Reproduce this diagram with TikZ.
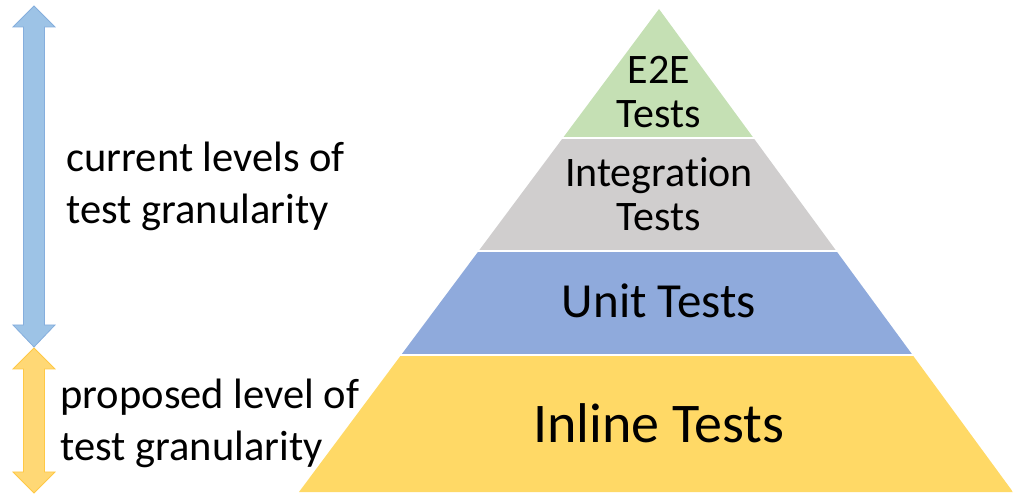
\documentclass[tikz,border=0pt]{standalone}
\usepackage{fontspec}
\setmainfont{Carlito}[Ligatures=NoCommon]
\definecolor{etoe}{HTML}{C5E0B4}
\definecolor{integ}{HTML}{D0CECE}
\definecolor{unit}{HTML}{8FAADC}
\definecolor{inline}{HTML}{FFD966}
\definecolor{curfill}{HTML}{9DC3E6}
\definecolor{curline}{HTML}{85AEDD}
\definecolor{propfill}{HTML}{FFD875}
\definecolor{propline}{HTML}{FFC845}
\tikzset{
  side/.style={anchor=west, align=left, font=\fontsize{42.5}{52}\selectfont},
  layer/.style={align=center, font=\fontsize{42}{44}\selectfont},
}
% double arrow: \dblarrow[style](x)(top)(top head)(bottom head)(bottom)
\def\dblarrow[#1](#2)(#3)(#4)(#5)(#6){\draw[#1] (#2,#3) -- (#2+21,#4) -- (#2+10.5,#4) -- (#2+10.5,#5) -- (#2+21,#5) -- (#2,#6) -- (#2-21,#5) -- (#2-10.5,#5) -- (#2-10.5,#4) -- (#2-21,#4) -- cycle;}

\begin{document}
\begin{tikzpicture}[x=1pt,y=-1pt]
		%%%%% START %%%%%
		\useasboundingbox (0,0) rectangle (1013,494);
		
		% pyramid
		\coordinate (apex) at (659,9);
		\coordinate (bl) at (299,492);
		\coordinate (br) at (1013,492);
		\begin{scope}
			\clip (apex) -- (bl) -- (br) -- cycle;
			\fill[etoe] (290,0) rectangle (1013,137.2);
			\fill[integ] (290,139.2) rectangle (1013,249.6);
			\fill[unit] (290,251.6) rectangle (1013,353.8);
			\fill[inline] (290,355.8) rectangle (1013,494);
		\end{scope}
		
		\node[layer] (e2e) at (659,92) {E2E\\Tests};
		\node[layer] (integration) at (659,194) {Integration\\Tests};
		\node[layer, font=\fontsize{49}{50}\selectfont] (unittests) at (659,301) {Unit Tests};
		\node[layer, font=\fontsize{56}{58}\selectfont] (inlinetests) at (659,423) {Inline Tests};
		
		% arrows on the left
		\dblarrow[fill=curfill, draw=curline, line width=0.8](34)(6)(27)(325)(347)
		\dblarrow[fill=propfill, draw=propline, line width=0.8](34)(348)(369)(472)(493)
		
		\node[side] (current) at (63,186) {current levels of\\test granularity};
		\node[side] (proposed) at (57,423) {proposed level of\\test granularity};
		%%%%% END %%%%%
	\end{tikzpicture}
\end{document}
